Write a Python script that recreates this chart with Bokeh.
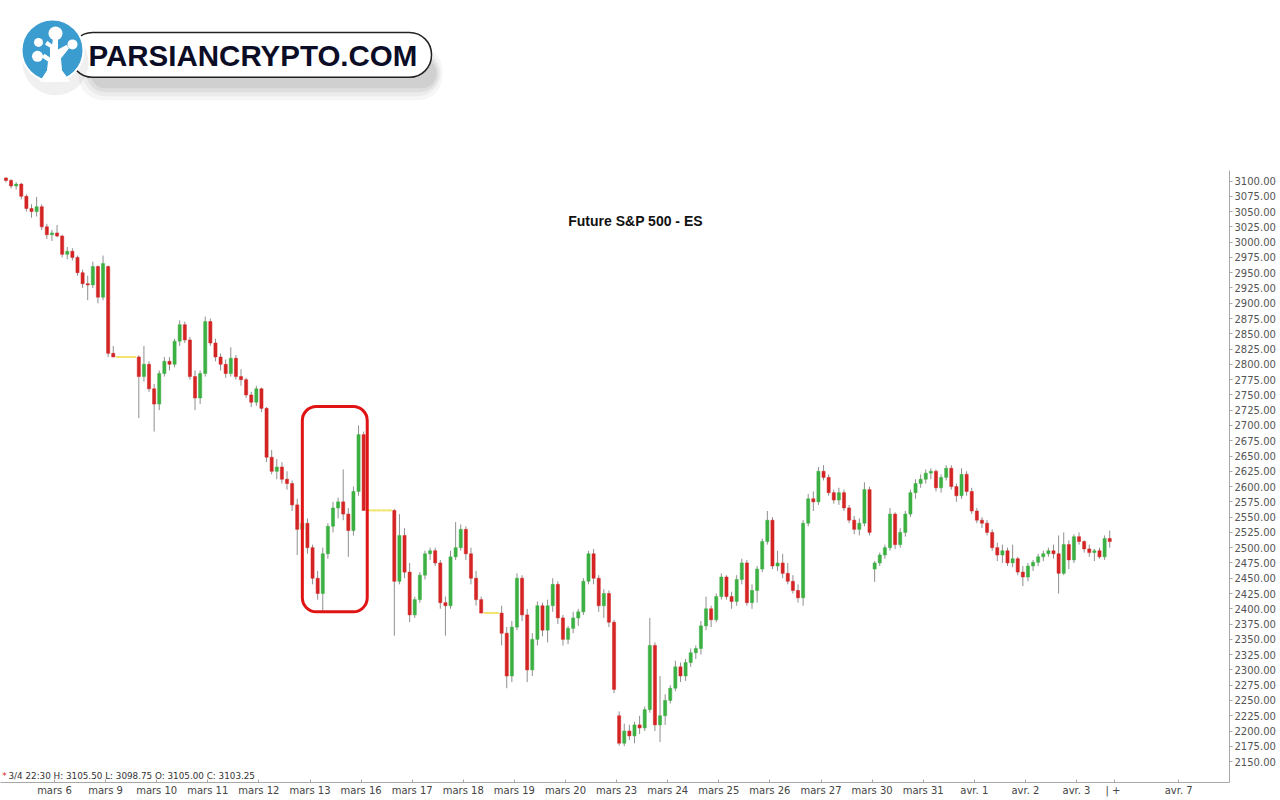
import numpy as np
from bokeh.plotting import figure
from bokeh.models import Range1d, FixedTicker, PrintfTickFormatter, BoxAnnotation, Label
from bokeh.embed import file_html
from bokeh.resources import INLINE

# ---------------- data ----------------
title_text = "Future S&P 500  - ES"
status_text = "3/4 22:30   H: 3105.50  L: 3098.75  O: 3105.00  C: 3103.25"
logo_text = "PARSIANCRYPTO.COM"

# session 0 = mars 5 (partly visible), sessions 1..21 labelled
day_labels = ["mars 6", "mars 9", "mars 10", "mars 11", "mars 12", "mars 13",
              "mars 16", "mars 17", "mars 18", "mars 19", "mars 20", "mars 23",
              "mars 24", "mars 25", "mars 26", "mars 27", "mars 30", "mars 31",
              "avr. 1", "avr. 2", "avr. 3"]
future_label = "avr. 7"
y_ticks = [2150, 2175, 2200, 2225, 2250, 2275, 2300, 2325, 2350, 2375, 2400,
           2425, 2450, 2475, 2500, 2525, 2550, 2575, 2600, 2625, 2650, 2675,
           2700, 2725, 2750, 2775, 2800, 2825, 2850, 2875, 2900, 2925, 2950,
           2975, 3000, 3025, 3050, 3075, 3100]

BARS_PER_SESSION = 10

opens = [
    3105, 3101, 3092, 3095, 3075, 3055, 3050, 3058, 3025, 3012,   # mars 5
    3015, 3010, 2980, 2985, 2975, 2950, 2932, 2930, 2960, 2910,   # mars 6
    2960, 2818, 2812, 2812, 2812, 2812, 2812, 2780, 2800, 2760,   # mars 9
    2735, 2785, 2805, 2800, 2838, 2865, 2840, 2780, 2745, 2785,   # mars 10
    2870, 2835, 2812, 2800, 2785, 2810, 2780, 2775, 2750, 2738,   # mars 11
    2760, 2728, 2648, 2625, 2632, 2612, 2605, 2570, 2530, 2540,   # mars 12
    2500, 2450, 2425, 2490, 2535, 2565, 2575, 2555, 2528, 2592,   # mars 13
    2685, 2561, 2561, 2561, 2561, 2561, 2561, 2445, 2520, 2460,   # mars 16
    2390, 2415, 2455, 2490, 2495, 2475, 2410, 2405, 2485, 2500,   # mars 17
    2530, 2490, 2450, 2415, 2393, 2393, 2393, 2393, 2360, 2290,   # mars 18
    2370, 2450, 2390, 2300, 2350, 2405, 2365, 2405, 2440, 2385,   # mars 19
    2350, 2368, 2385, 2395, 2445, 2490, 2450, 2405, 2425, 2378,   # mars 20
    2225, 2180, 2200, 2192, 2210, 2205, 2235, 2340, 2210, 2225,   # mars 23
    2250, 2270, 2305, 2290, 2312, 2328, 2335, 2372, 2400, 2382,   # mars 24
    2420, 2452, 2420, 2412, 2448, 2475, 2410, 2430, 2465, 2510,   # mars 25
    2545, 2470, 2475, 2458, 2445, 2430, 2418, 2540, 2580, 2575,   # mars 26
    2625, 2615, 2590, 2578, 2590, 2565, 2545, 2530, 2540, 2595,   # mars 27
    2465, 2475, 2488, 2500, 2555, 2505, 2525, 2555, 2590, 2605,   # mars 30
    2612, 2622, 2625, 2598, 2615, 2630, 2600, 2585, 2620, 2592,   # mars 31
    2560, 2545, 2540, 2525, 2500, 2488, 2495, 2475, 2482, 2460,   # avr. 1
    2452, 2470, 2476, 2485, 2490, 2495, 2490, 2458, 2505, 2480,   # avr. 2
    2518, 2510, 2498, 2492, 2495, 2485, 2515,                     # avr. 3
]
highs = [
    3106, 3103, 3098, 3097, 3078, 3062, 3074, 3062, 3030, 3020,
    3028, 3012, 2992, 2990, 2978, 2955, 2945, 2968, 2962, 2978,
    2962, 2830, 2812, 2812, 2812, 2812, 2815, 2830, 2805, 2768,
    2790, 2812, 2812, 2842, 2872, 2870, 2845, 2790, 2790, 2878,
    2875, 2842, 2818, 2808, 2828, 2815, 2792, 2778, 2755, 2765,
    2762, 2730, 2660, 2645, 2640, 2625, 2610, 2580, 2655, 2548,
    2505, 2462, 2500, 2540, 2575, 2582, 2628, 2565, 2600, 2700,
    2690, 2561, 2561, 2561, 2561, 2561, 2563, 2555, 2532, 2475,
    2420, 2460, 2495, 2500, 2500, 2480, 2420, 2495, 2542, 2538,
    2535, 2500, 2462, 2420, 2393, 2393, 2393, 2405, 2370, 2380,
    2458, 2455, 2400, 2360, 2412, 2410, 2415, 2450, 2445, 2390,
    2372, 2395, 2400, 2450, 2495, 2498, 2455, 2432, 2430, 2382,
    2232, 2212, 2210, 2215, 2225, 2240, 2385, 2345, 2290, 2260,
    2275, 2315, 2312, 2318, 2335, 2340, 2380, 2420, 2405, 2425,
    2458, 2455, 2428, 2455, 2482, 2480, 2440, 2470, 2515, 2560,
    2550, 2495, 2490, 2475, 2455, 2440, 2545, 2588, 2592, 2632,
    2635, 2620, 2595, 2598, 2595, 2570, 2552, 2548, 2607, 2600,
    2478, 2492, 2505, 2565, 2558, 2532, 2560, 2595, 2612, 2620,
    2628, 2630, 2628, 2620, 2635, 2635, 2605, 2630, 2625, 2598,
    2565, 2550, 2545, 2530, 2508, 2505, 2500, 2505, 2485, 2470,
    2475, 2480, 2490, 2495, 2500, 2505, 2520, 2525, 2512, 2522,
    2525, 2512, 2505, 2498, 2500, 2520, 2528,
]
lows = [
    3098, 3088, 3086, 3070, 3050, 3040, 3042, 3020, 3005, 3002,
    3008, 2975, 2972, 2970, 2945, 2925, 2905, 2925, 2900, 2905,
    2812, 2812, 2812, 2812, 2812, 2812, 2712, 2772, 2755, 2690,
    2725, 2780, 2790, 2795, 2830, 2835, 2775, 2725, 2735, 2780,
    2830, 2805, 2790, 2778, 2780, 2775, 2765, 2745, 2730, 2732,
    2722, 2640, 2620, 2612, 2605, 2595, 2560, 2488, 2505, 2490,
    2440, 2415, 2395, 2482, 2525, 2548, 2545, 2485, 2520, 2585,
    2560, 2561, 2561, 2561, 2561, 2561, 2356, 2440, 2450, 2378,
    2385, 2410, 2448, 2480, 2470, 2400, 2356, 2400, 2480, 2495,
    2480, 2440, 2405, 2393, 2393, 2393, 2393, 2340, 2270, 2280,
    2365, 2380, 2280, 2290, 2340, 2355, 2345, 2395, 2375, 2340,
    2342, 2360, 2372, 2390, 2440, 2440, 2395, 2385, 2370, 2262,
    2176, 2175, 2185, 2180, 2195, 2200, 2230, 2200, 2182, 2210,
    2245, 2265, 2280, 2282, 2305, 2318, 2325, 2365, 2370, 2378,
    2415, 2415, 2400, 2405, 2440, 2405, 2400, 2410, 2460, 2505,
    2465, 2462, 2450, 2440, 2425, 2410, 2405, 2535, 2560, 2570,
    2610, 2585, 2572, 2570, 2560, 2540, 2522, 2520, 2535, 2520,
    2444, 2470, 2482, 2495, 2498, 2500, 2518, 2550, 2580, 2598,
    2605, 2612, 2592, 2590, 2610, 2595, 2575, 2580, 2585, 2555,
    2540, 2532, 2520, 2495, 2478, 2475, 2470, 2468, 2455, 2437,
    2445, 2462, 2470, 2478, 2485, 2482, 2425, 2455, 2465, 2475,
    2505, 2492, 2485, 2478, 2482, 2480, 2500,
]
closes = [
    3101, 3092, 3095, 3075, 3055, 3050, 3058, 3025, 3012, 3015,
    3010, 2980, 2985, 2975, 2950, 2932, 2930, 2960, 2910, 2965,
    2818, 2812, 2812, 2812, 2812, 2812, 2780, 2800, 2760, 2735,
    2785, 2805, 2800, 2838, 2865, 2840, 2780, 2745, 2785, 2870,
    2835, 2812, 2800, 2785, 2810, 2780, 2775, 2750, 2738, 2760,
    2728, 2648, 2625, 2632, 2612, 2605, 2570, 2530, 2540, 2500,
    2450, 2425, 2490, 2535, 2565, 2575, 2555, 2528, 2592, 2685,
    2561, 2561, 2561, 2561, 2561, 2561, 2445, 2520, 2460, 2390,
    2415, 2455, 2490, 2495, 2475, 2410, 2405, 2485, 2500, 2530,
    2490, 2450, 2415, 2393, 2393, 2393, 2393, 2360, 2290, 2370,
    2450, 2390, 2300, 2350, 2405, 2365, 2405, 2440, 2385, 2350,
    2368, 2385, 2395, 2445, 2490, 2450, 2405, 2425, 2378, 2268,
    2180, 2200, 2192, 2210, 2205, 2235, 2340, 2210, 2225, 2250,
    2270, 2305, 2290, 2312, 2328, 2335, 2372, 2400, 2382, 2420,
    2452, 2420, 2412, 2448, 2475, 2410, 2430, 2465, 2510, 2545,
    2470, 2475, 2458, 2445, 2430, 2418, 2540, 2580, 2575, 2625,
    2615, 2590, 2578, 2590, 2565, 2545, 2530, 2540, 2595, 2525,
    2475, 2488, 2500, 2555, 2505, 2525, 2555, 2590, 2605, 2612,
    2622, 2625, 2598, 2615, 2630, 2600, 2585, 2620, 2592, 2560,
    2545, 2540, 2525, 2500, 2488, 2495, 2475, 2482, 2460, 2452,
    2470, 2476, 2485, 2490, 2495, 2490, 2458, 2505, 2480, 2518,
    2510, 2498, 2492, 2495, 2485, 2515, 2510,
]
# annotation: highlighted zone (session units / price)
highlight_x = (5.85, 7.12)
highlight_p = (2395, 2731)

# ---------------- geometry (page-pixel helpers for decorations) -------
W, H = 1278, 798
PX_DAY = 51.1          # pixels per session
PX_S1 = 54.0           # pixel of session 1 start
PT_PX = 582.0 / 950.0  # pixels per index point
def ux(px):            # page pixel -> session units
    return 1 + (px - PX_S1) / PX_DAY
def py(px):            # page pixel -> price
    return 3100 - (px - 181) / PT_PX

FRAME_W = 1229
FRAME_H = 784
X0, X1 = ux(0), ux(FRAME_W)
Y1, Y0 = py(0), py(FRAME_H)

p = figure(width=W, height=H, output_backend="svg", toolbar_location=None,
           x_range=Range1d(X0, X1), y_range=Range1d(Y0, Y1),
           y_axis_location="right", min_border_left=0, min_border_top=0,
           min_border_right=W - FRAME_W, min_border_bottom=H - FRAME_H)
p.grid.visible = False
p.outline_line_color = None
p.background_fill_color = "white"
p.border_fill_color = "white"

# ---------------- candles ----------------
o = np.array(opens, float); h = np.array(highs, float)
l = np.array(lows, float); c = np.array(closes, float)
idx = np.arange(len(c))
xs = idx // BARS_PER_SESSION + (idx % BARS_PER_SESSION + 0.5) / BARS_PER_SESSION
flat = (o == h) & (h == l) & (l == c)
live = ~flat
up = live & (c >= o)
dn = live & (c < o)
half = 0.5 / BARS_PER_SESSION

p.segment(x0=xs[live], y0=l[live], x1=xs[live], y1=h[live], line_color="#8f8f8f", line_width=1)
p.vbar(x=xs[up], width=0.062, top=c[up], bottom=o[up], fill_color="#3cb043", line_color="#3cb043", line_width=0.5)
p.vbar(x=xs[dn], width=0.062, top=o[dn], bottom=c[dn], fill_color="#d42424", line_color="#d42424", line_width=0.5)
p.segment(x0=xs[flat] - half, y0=c[flat], x1=xs[flat] + half, y1=c[flat], line_color="#f2e36a", line_width=2)

# highlight box
p.add_layout(BoxAnnotation(left=highlight_x[0], right=highlight_x[1], bottom=highlight_p[0], top=highlight_p[1],
                           fill_color=None, fill_alpha=0, line_color="#e01414", line_alpha=1.0,
                           line_width=3, border_radius=14))

# ---------------- axes ----------------
ya = p.yaxis[0]
ya.ticker = FixedTicker(ticks=y_ticks)
ya.formatter = PrintfTickFormatter(format="%.2f")
ya.bounds = (Y0, py(170))
ya.axis_line_color = "#a8a8a8"
ya.major_tick_line_color = "#a8a8a8"
ya.major_tick_in = 0
ya.major_tick_out = 3
ya.minor_tick_line_color = None
ya.major_label_standoff = 2
ya.major_label_text_font = "DejaVu Sans"
ya.major_label_text_font_size = "10px"
ya.major_label_text_color = "#555555"

xa = p.xaxis[0]
n_sessions = len(day_labels)
sep_tick = ux(1114)
xticks = list(range(1, n_sessions + 1)) + [sep_tick, n_sessions + 2]
overrides = {i + 1: lab for i, lab in enumerate(day_labels)}
overrides[sep_tick] = "|  +"
overrides[n_sessions + 2] = future_label
xa.ticker = FixedTicker(ticks=xticks)
xa.major_label_overrides = overrides
xa.axis_line_color = "#a8a8a8"
xa.major_tick_line_color = "#a8a8a8"
xa.major_tick_in = 3
xa.major_tick_out = 0
xa.minor_tick_line_color = None
xa.major_label_standoff = 2
xa.major_label_text_font = "DejaVu Sans"
xa.major_label_text_font_size = "10px"
xa.major_label_text_color = "#444444"

# ---------------- texts ----------------
p.add_layout(Label(x=ux(637), y=py(221), text=title_text, text_align="center", text_baseline="middle",
                   text_font="Liberation Sans", text_font_style="bold", text_font_size="14px",
                   text_color="#111111"))
p.add_layout(Label(x=ux(4), y=py(777), text="*", text_align="center", text_baseline="middle",
                   text_font="DejaVu Sans", text_font_size="9px", text_color="#d42424"))
p.add_layout(Label(x=ux(8), y=py(777), text=status_text, text_align="left", text_baseline="middle",
                   text_font="DejaVu Sans", text_font_size="8.8px", text_color="#333333"))

# ---------------- logo ----------------
for (l0, r0, t0, b0, a) in [(78, 442, 46, 100, 0.035), (82, 440, 50, 96, 0.045), (86, 438, 54, 92, 0.055), (90, 436, 58, 88, 0.06)]:
    sh = BoxAnnotation(left=ux(l0), right=ux(r0), top=py(t0), bottom=py(b0), fill_color="#000000",
                       fill_alpha=a, line_color=None, line_alpha=0, border_radius=24, level="underlay")
    p.add_layout(sh)
p.add_layout(BoxAnnotation(left=ux(70), right=ux(431), top=py(32), bottom=py(77), fill_color="white",
                           fill_alpha=1, line_color="#222222", line_alpha=1, line_width=1.5,
                           border_radius=22, level="underlay"))
p.scatter(x=[ux(55)], y=[py(62)], size=66, fill_color="#000000", fill_alpha=0.06, line_color=None)
p.scatter(x=[ux(52)], y=[py(50)], size=62, fill_color="#3b9dcf", line_color="white", line_width=2)
p.patch(x=[ux(v) for v in [40, 47, 48, 42, 44, 50, 50, 45, 47, 52, 53, 57, 57, 66, 68, 60, 61, 69]],
        y=[py(v) for v in [81, 70, 61, 57, 54, 58, 47, 44, 41, 45, 38, 38, 50, 45, 48, 58, 70, 81]],
        fill_color="white", line_color="white", line_width=1)
p.scatter(x=[ux(55), ux(38), ux(37), ux(72)], y=[py(33), py(42), py(56), py(44)],
          size=[14, 9, 11, 10], fill_color="white", line_color=None)
p.add_layout(Label(x=ux(88), y=py(55), text=logo_text, text_align="left", text_baseline="middle",
                   text_font="Liberation Sans", text_font_style="bold",
                   text_font_size="29.5px", text_color="#0b0d26"))

open("out.html", "w").write(file_html(p, INLINE))
